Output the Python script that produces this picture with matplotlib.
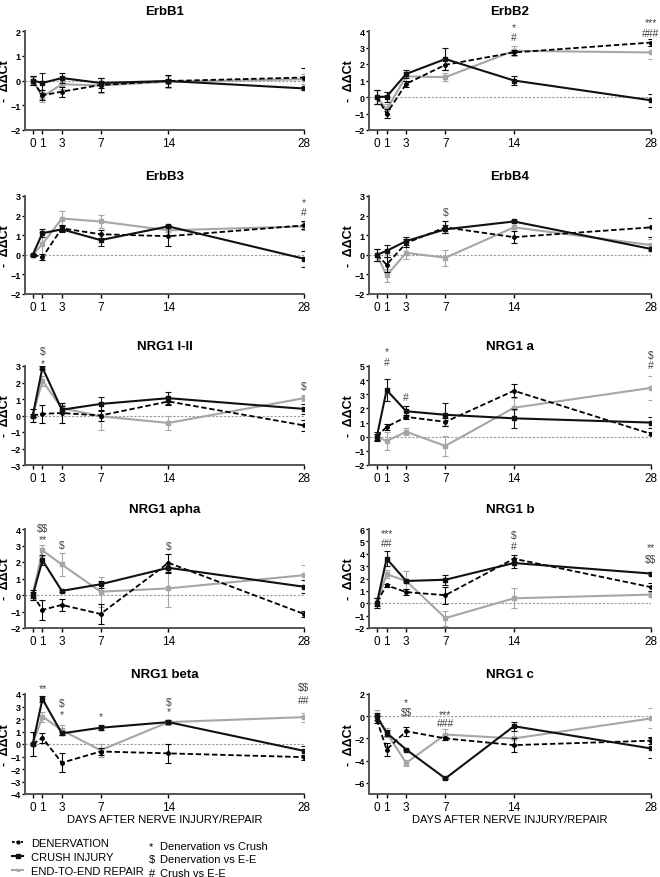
import numpy as np
import matplotlib
matplotlib.use("Agg")
import matplotlib.pyplot as plt
from matplotlib.lines import Line2D

days = [0, 1, 3, 7, 14, 28]
panels = ["ErbB1", "ErbB2", "ErbB3", "ErbB4", "NRG1 I-II", "NRG1 a",
          "NRG1 apha", "NRG1 b", "NRG1 beta", "NRG1 c"]

# mean -ddCt per group
den = {
    "ErbB1": [0, -0.6, -0.45, -0.18, -0.02, 0.12],
    "ErbB2": [0, -1.0, 0.8, 1.95, 2.7, 3.3],
    "ErbB3": [0, -0.12, 1.35, 1.05, 0.95, 1.5],
    "ErbB4": [0, -0.5, 0.6, 1.4, 0.9, 1.4],
    "NRG1 I-II": [0, 0.1, 0.15, 0.0, 0.85, -0.6],
    "NRG1 a": [0, 0.7, 1.4, 1.05, 3.25, 0.2],
    "NRG1 apha": [0, -0.9, -0.6, -1.15, 1.95, -1.15],
    "NRG1 b": [0.1, 1.45, 0.9, 0.65, 3.6, 1.3],
    "NRG1 beta": [0, 0.5, -1.5, -0.6, -0.75, -1.05],
    "NRG1 c": [-0.3, -3.0, -1.35, -2.0, -2.6, -2.2],
}
den_err = {
    "ErbB1": [0.2, 0.2, 0.2, 0.3, 0.25, 0.4],
    "ErbB2": [0.4, 0.25, 0.2, 0.3, 0.15, 0.2],
    "ErbB3": [0.05, 0.15, 0.15, 0.2, 0.5, 0.2],
    "ErbB4": [0.3, 0.4, 0.2, 0.3, 0.3, 0.5],
    "NRG1 I-II": [0.4, 0.55, 0.6, 0.35, 0.2, 0.35],
    "NRG1 a": [0.2, 0.2, 0.15, 0.3, 0.45, 0.1],
    "NRG1 apha": [0.3, 0.6, 0.35, 0.6, 0.55, 0.2],
    "NRG1 b": [0.3, 0.1, 0.25, 0.7, 0.3, 0.3],
    "NRG1 beta": [0.95, 0.4, 0.75, 0.3, 0.75, 0.2],
    "NRG1 c": [0.3, 0.6, 0.4, 0.1, 0.6, 0.3],
}
crush = {
    "ErbB1": [0, -0.1, 0.1, -0.1, -0.02, -0.32],
    "ErbB2": [0, 0.02, 1.4, 2.3, 1.0, -0.2],
    "ErbB3": [0, 1.1, 1.3, 0.75, 1.45, -0.2],
    "ErbB4": [0, 0.2, 0.7, 1.3, 1.7, 0.3],
    "NRG1 I-II": [0, 2.9, 0.35, 0.7, 1.05, 0.4],
    "NRG1 a": [0, 3.3, 1.8, 1.55, 1.3, 1.0],
    "NRG1 apha": [0, 2.1, 0.25, 0.65, 1.65, 0.5],
    "NRG1 b": [0, 3.6, 1.8, 1.9, 3.25, 2.4],
    "NRG1 beta": [0, 3.6, 0.85, 1.3, 1.75, -0.55],
    "NRG1 c": [0, -1.5, -3.0, -5.6, -0.9, -2.9],
}
crush_err = {
    "ErbB1": [0.2, 0.4, 0.2, 0.2, 0.1, 0.05],
    "ErbB2": [0.4, 0.3, 0.25, 0.65, 0.3, 0.4],
    "ErbB3": [0.05, 0.2, 0.15, 0.3, 0.05, 0.4],
    "ErbB4": [0.3, 0.3, 0.2, 0.2, 0.05, 0.05],
    "NRG1 I-II": [0.1, 0.1, 0.2, 0.4, 0.35, 0.3],
    "NRG1 a": [0.3, 0.8, 0.35, 0.8, 0.65, 0.4],
    "NRG1 apha": [0.2, 0.3, 0.05, 0.2, 0.3, 0.4],
    "NRG1 b": [0.4, 0.6, 0.1, 0.4, 0.4, 0.1],
    "NRG1 beta": [0.1, 0.25, 0.1, 0.2, 0.15, 0.4],
    "NRG1 c": [0.3, 0.3, 0.05, 0.05, 0.4, 0.9],
}
e2e = {
    "ErbB1": [0, -0.65, -0.15, -0.2, -0.05, 0.05],
    "ErbB2": [0, -0.75, 1.25, 1.2, 2.8, 2.7],
    "ErbB3": [0, 0.55, 1.85, 1.7, 1.25, 1.45],
    "ErbB4": [0, -1.05, 0.1, -0.15, 1.4, 0.5],
    "NRG1 I-II": [0, 2.1, 0.45, -0.05, -0.45, 1.05],
    "NRG1 a": [0, -0.3, 0.35, -0.65, 2.05, 3.45],
    "NRG1 apha": [0, 2.7, 1.85, 0.2, 0.4, 1.2],
    "NRG1 b": [0, 2.35, 1.8, -1.2, 0.4, 0.7],
    "NRG1 beta": [0, 2.2, 1.1, -0.5, 1.75, 2.15],
    "NRG1 c": [0, -1.5, -4.2, -1.65, -2.0, -0.2],
}
e2e_err = {
    "ErbB1": [0.15, 0.2, 0.2, 0.3, 0.25, 0.2],
    "ErbB2": [0.4, 0.3, 0.25, 0.25, 0.3, 0.4],
    "ErbB3": [0.05, 0.6, 0.4, 0.35, 0.1, 0.2],
    "ErbB4": [0.3, 0.35, 0.3, 0.4, 0.2, 0.3],
    "NRG1 I-II": [0.4, 0.3, 0.2, 0.8, 0.4, 0.2],
    "NRG1 a": [0.3, 0.65, 0.25, 0.7, 0.7, 0.85],
    "NRG1 apha": [0.3, 0.35, 0.7, 0.9, 1.15, 0.6],
    "NRG1 b": [0.4, 0.3, 0.8, 0.6, 0.8, 0.2],
    "NRG1 beta": [0.95, 0.4, 0.4, 0.5, 0.2, 0.35],
    "NRG1 c": [0.6, 0.4, 0.3, 0.5, 0.7, 0.9],
}
ylims = {
    "ErbB1": (-2, 2), "ErbB2": (-2, 4), "ErbB3": (-2, 3), "ErbB4": (-2, 3),
    "NRG1 I-II": (-3, 3), "NRG1 a": (-2, 5), "NRG1 apha": (-2, 4),
    "NRG1 b": (-2, 6), "NRG1 beta": (-4, 4), "NRG1 c": (-7, 2),
}
yticks = {
    "NRG1 c": [-6, -4, -2, 0, 2],
}
# significance marks: (day, y level, text)
marks = {
    "ErbB2": [(14, 4.25, "*"), (14, 3.65, "#"), (28, 4.55, "***"), (28, 3.85, "###")],
    "ErbB3": [(28, 2.7, "*"), (28, 2.2, "#")],
    "ErbB4": [(7, 2.2, "$")],
    "NRG1 I-II": [(1, 3.9, "$"), (1, 3.15, "*"), (28, 1.8, "$")],
    "NRG1 a": [(1, 6.05, "*"), (1, 5.3, "#"), (3, 2.8, "#"), (28, 5.8, "$"), (28, 5.05, "#")],
    "NRG1 apha": [(1, 4.05, "$$"), (1, 3.4, "**"), (3, 3.0, "$"), (14, 2.95, "$")],
    "NRG1 b": [(1, 5.7, "***"), (1, 4.85, "##"), (14, 5.5, "$"), (14, 4.6, "#"),
               (28, 4.5, "**"), (28, 3.6, "$$")],
    "NRG1 beta": [(1, 4.45, "**"), (3, 3.25, "$"), (3, 2.4, "*"), (7, 2.2, "*"),
                  (14, 3.35, "$"), (14, 2.6, "*"), (28, 4.6, "$$"), (28, 3.5, "##")],
    "NRG1 c": [(3, 1.25, "*"), (3, 0.35, "$$"), (7, 0.15, "***"), (7, -0.65, "###")],
}

GRAY = "#a6a6a6"
plt.rcParams["font.family"] = ["Liberation Sans", "DejaVu Sans"]
plt.rcParams["text.parse_math"] = False

fig = plt.figure(figsize=(6.6, 8.78), dpi=100)
W, H = 660.0, 878.0
col_x = [(25, 304), (369, 651)]
ylab_x = [11, 355]   # right edge of the rotated y label
row_y = [(32, 131), (197, 295), (367, 466), (530, 629), (695, 795)]

for i, name in enumerate(panels):
    r, c = divmod(i, 2)
    x0, x1 = col_x[c]
    yt, yb = row_y[r]
    ax = fig.add_axes([x0 / W, 1 - yb / H, (x1 - x0) / W, (yb - yt) / H])

    ax.axhline(0, color="#999999", lw=0.8, ls=(0, (2, 1.5)), zorder=1)
    ax.errorbar(days, e2e[name], yerr=e2e_err[name], color=GRAY, lw=1.5,
                marker="s", ms=2.5, capsize=2, elinewidth=0.8, capthick=0.8, zorder=2)
    ax.errorbar(days, den[name], yerr=den_err[name], color="black", lw=1.3,
                ls=(0, (3, 1.5)), marker="o", ms=2.5, capsize=2, elinewidth=0.8,
                capthick=0.8, zorder=3)
    ax.errorbar(days, crush[name], yerr=crush_err[name], color="#111111", lw=1.5,
                marker="s", ms=3, capsize=2, elinewidth=0.8, capthick=0.8, zorder=4)

    for d, yv, txt in marks.get(name, []):
        ax.text(d, yv, txt, ha="center", va="center", fontsize=7.5,
                color="#444444", clip_on=False)

    ax.set_xlim(-0.8, 28)
    ax.set_ylim(*ylims[name])
    lo, hi = ylims[name]
    ax.set_yticks(yticks.get(name, list(range(lo, hi + 1))))
    ax.set_xticks(days)
    ax.tick_params(axis="x", labelsize=8.5, length=3, width=1, pad=2)
    ax.tick_params(axis="y", labelsize=6.5, length=2, width=1, pad=1)
    for lab in ax.get_yticklabels():
        lab.set_fontweight("bold")
    for s in ("top", "right"):
        ax.spines[s].set_visible(False)
    for s in ("left", "bottom"):
        ax.spines[s].set_linewidth(1.4)
        ax.spines[s].set_color("#555555")
    ax.set_ylabel("-  ΔΔCt", fontsize=9, fontweight="bold")
    ax.yaxis.set_label_coords((ylab_x[c] - x0) / (x1 - x0), 0.5)
    ax.set_title(name, fontsize=9.5, fontweight="bold", pad=12)
    if r == 4:
        ax.set_xlabel("DAYS AFTER NERVE INJURY/REPAIR", fontsize=8, labelpad=1)

handles = [
    Line2D([], [], color="black", lw=1.3, ls=(0, (1.5, 1)), marker="o", ms=2),
    Line2D([], [], color="#111111", lw=1.5, marker="s", ms=2.5),
    Line2D([], [], color=GRAY, lw=1.5, marker="s", ms=2),
]
fig.legend(handles, ["DENERVATION", "CRUSH INJURY", "END-TO-END REPAIR"],
           loc="upper left", bbox_to_anchor=(12 / W, 1 - 839 / H), frameon=False,
           fontsize=8, handlelength=1.0, handletextpad=0.7, labelspacing=0.35,
           borderaxespad=0, borderpad=0)

sig_keys = ["*", "$", "#"]
sig_text = ["Denervation vs Crush", "Denervation vs E-E", "Crush vs E-E"]
for k, (sym, txt) in enumerate(zip(sig_keys, sig_text)):
    yy = 1 - (847 + 13.5 * k) / H
    fig.text(149 / W, yy, sym, fontsize=8, va="center")
    fig.text(160 / W, yy, txt, fontsize=8, va="center")

fig.savefig("out.png", dpi=100)
